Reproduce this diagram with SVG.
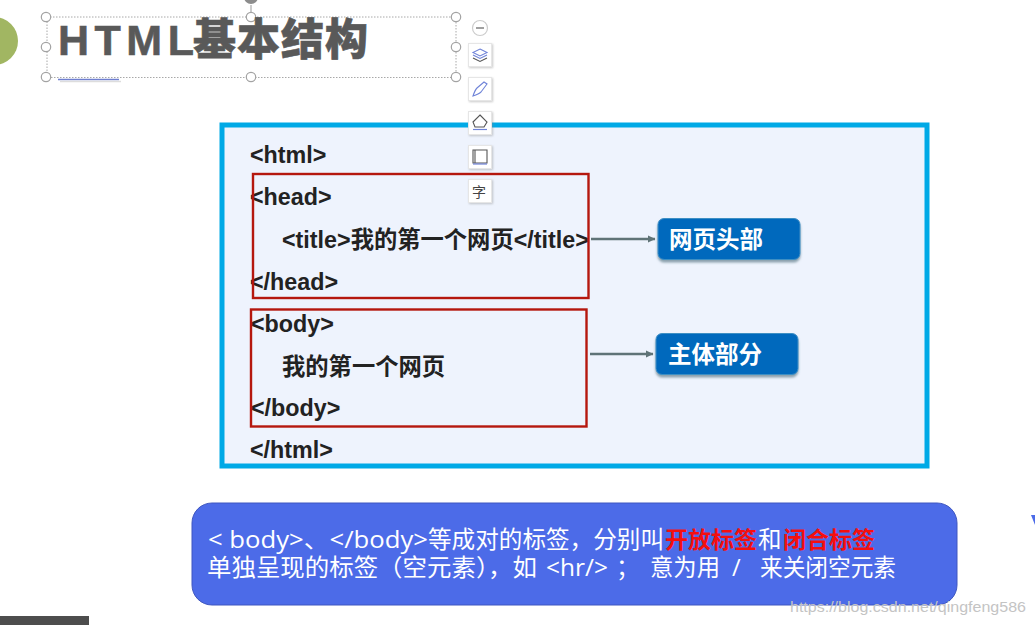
<svg xmlns="http://www.w3.org/2000/svg" width="1035" height="625" viewBox="0 0 1035 625">
<style>
.code{font-family:"Liberation Sans","Noto Sans CJK SC",sans-serif;font-size:23.300px;font-weight:700;fill:#222}
.tag{font-family:"Noto Sans CJK SC",sans-serif;font-size:23.500px;font-weight:700;fill:#fff}
.note{font-family:"Open Sans","Noto Sans CJK SC",sans-serif;font-size:23.500px;fill:#fff}
.red{fill:#f40f0f;font-weight:700;font-size:23px;font-family:"Noto Sans CJK SC",sans-serif}
.h{fill:#fff;stroke:#a3a3a3;stroke-width:1.2}
.btn{fill:#fff;stroke:#e6e6e6;stroke-width:1;filter:url(#bs)}
.ic{fill:none;stroke:#555;stroke-width:1.1}
.ib{fill:none;stroke:#6f83d8;stroke-width:1.1}
.box{fill:none;stroke:#b5170e;stroke-width:2.4}
.conn{stroke:#5f7377;stroke-width:2.6;fill:none;marker-end:url(#ah)}
.pill{fill:#0569bd;stroke:#3d8fc4;stroke-width:1;filter:url(#sh)}
.title{font-family:"Liberation Sans","Noto Sans CJK SC",sans-serif;font-size:43px;font-weight:900;fill:#595959;stroke:#595959;stroke-width:.6}
</style>
<defs>
<marker id="ah" markerWidth="9" markerHeight="9" refX="7" refY="4" orient="auto" markerUnits="userSpaceOnUse"><path d="M0 .5L7.500 4L0 7.500Z" fill="#5f7377"/></marker>
<filter id="sh" x="-10%" y="-20%" width="120%" height="150%"><feDropShadow dx="0" dy="2.5" stdDeviation="1.2" flood-color="#476a78" flood-opacity=".6"/></filter>
<filter id="bs" x="-20%" y="-20%" width="150%" height="150%"><feDropShadow dx="1" dy="1" stdDeviation="1" flood-color="#888" flood-opacity=".45"/></filter>
</defs>
<rect width="1035" height="625" fill="#fff"/>
<g id="title-dot"><circle cx="-6" cy="41" r="24" fill="#a1b662"/></g>
<g id="title-box">
<rect x="47" y="17" width="409" height="60.500" fill="none" stroke="#a8a8a8" stroke-width="1" stroke-dasharray="1.500 1.500"/>
<path d="M251 5V17" stroke="#999" stroke-width="1"/><circle cx="251" cy="-3" r="7" fill="#8c8c8c"/>
<circle class="h" cx="46" cy="17" r="4.700"/><circle class="h" cx="251" cy="17" r="4.700"/><circle class="h" cx="456" cy="17" r="4.700"/>
<circle class="h" cx="46" cy="47" r="4.700"/><circle class="h" cx="456" cy="47" r="4.700"/>
<circle class="h" cx="46" cy="77" r="4.700"/><circle class="h" cx="251" cy="77" r="4.700"/><circle class="h" cx="456" cy="77" r="4.700"/>
<text class="title" x="58" y="55" letter-spacing="5.500">HTML</text>
<text class="title" x="193" y="55" textLength="175">基本结构</text>
<path d="M58 79.500H119" stroke="#6f7fd0" stroke-width="1.600"/><path d="M60 81.500H121" stroke="#ddd" stroke-width="1.500"/>
</g>
<g id="code-panel"><rect x="222" y="125" width="705" height="341" fill="#eef3fd" stroke="#00a9e6" stroke-width="5"/></g>
<g id="code-text">
<text class="code" x="250" y="163">&lt;html&gt;</text>
<text class="code" x="250" y="205">&lt;head&gt;</text>
<text class="code" x="282" y="248">&lt;title&gt;我的第一个网页&lt;/title&gt;</text>
<text class="code" x="250" y="290">&lt;/head&gt;</text>
<text class="code" x="251" y="332">&lt;body&gt;</text>
<text class="code" x="282" y="375">我的第一个网页</text>
<text class="code" x="251" y="416">&lt;/body&gt;</text>
<text class="code" x="250" y="458">&lt;/html&gt;</text>
</g>
<g id="head-box"><rect class="box" x="253" y="174" width="335.500" height="124"/></g>
<g id="body-box"><rect class="box" x="251" y="309.500" width="335.500" height="117"/></g>
<g id="connectors">
<path class="conn" d="M591 239H655"/>
<path class="conn" d="M590 354H653"/>
</g>
<g id="head-label"><rect class="pill" x="658" y="218.500" width="142" height="41" rx="6"/><text class="tag" x="669" y="248">网页头部</text></g>
<g id="body-label"><rect class="pill" x="656" y="333.500" width="142" height="41" rx="6"/><text class="tag" x="668" y="363">主体部分</text></g>
<g id="toolbar">
<circle cx="480" cy="28" r="7.500" fill="#fff" stroke="#ccc" stroke-width="1.200"/><path d="M476 28H484" stroke="#777" stroke-width="1.400"/>
<g id="btn1"><rect class="btn" x="468.500" y="43.500" width="23" height="23"/><path class="ib" d="M480 49l7 3.500-7 3.500-7-3.500z"/><path class="ib" d="M473 55l7 3.500 7-3.500"/><path class="ic" d="M473 58l7 3.500 7-3.500"/></g>
<g id="btn2"><rect class="btn" x="468.500" y="77.500" width="23" height="23"/><path class="ib" d="M473 96c1-3 2-6 4-8l7-6 3 2-6 8c-2 2-5 3-8 4z"/></g>
<g id="btn3"><rect class="btn" x="468.500" y="111.500" width="23" height="23"/><path class="ic" d="M480 115l7 7-3 5h-9l-2-5z"/><path d="M473 129.500H487" stroke="#6f83d8" stroke-width="1.200"/></g>
<g id="btn4"><rect class="btn" x="468.500" y="145.500" width="23" height="23"/><path class="ic" stroke-width="1.500" d="M473 150h14v13h-14z"/><path class="ic" d="M475 150v13"/><path d="M473 164H487" stroke="#6f83d8" stroke-width="1.200"/></g>
<g id="btn5"><rect class="btn" x="468.500" y="179.500" width="23" height="23"/><text x="472" y="197" font-family="'Noto Sans CJK SC',sans-serif" font-size="14" fill="#444">字</text></g>
</g>
<g id="note"><rect x="192" y="503" width="765" height="102" rx="20" fill="#4c6be8" stroke="#3f57c0" stroke-width="1"/>
<text class="note" x="208" y="548" textLength="220" lengthAdjust="spacingAndGlyphs">&lt; body&gt;、&lt;/body&gt;</text>
<text class="note" x="428" y="548" textLength="236" lengthAdjust="spacingAndGlyphs">等成对的标签&#xFF0C;分别叫</text>
<text class="note red" x="665" y="548">开放标签</text>
<text class="note" x="758" y="548">和</text>
<text class="note red" x="783" y="548">闭合标签</text>
<text class="note" x="207" y="576" textLength="330" lengthAdjust="spacingAndGlyphs">单独呈现的标签&#xFF08;空元素&#xFF09;&#xFF0C;如</text>
<text class="note" x="546" y="576" textLength="62" lengthAdjust="spacingAndGlyphs">&lt;hr/&gt;</text>
<text class="note" x="616" y="576">&#xFF1B;</text>
<text class="note" x="650" y="576" textLength="70" lengthAdjust="spacingAndGlyphs">意为用</text>
<text class="note" x="732" y="576">/</text>
<text class="note" x="760" y="576" textLength="136" lengthAdjust="spacingAndGlyphs">来关闭空元素</text>
</g>
<g id="edge-bits">
<path d="M1031 515h4v10z" fill="#4c6be8"/>
<rect x="-5" y="616" width="94" height="14" fill="#4d4d4d"/>
</g>
<text x="790" y="612" font-family="'Liberation Sans',sans-serif" font-size="15" fill="#c4c4c4" textLength="236" lengthAdjust="spacingAndGlyphs">https://blog.csdn.net/qingfeng586</text>
</svg>
